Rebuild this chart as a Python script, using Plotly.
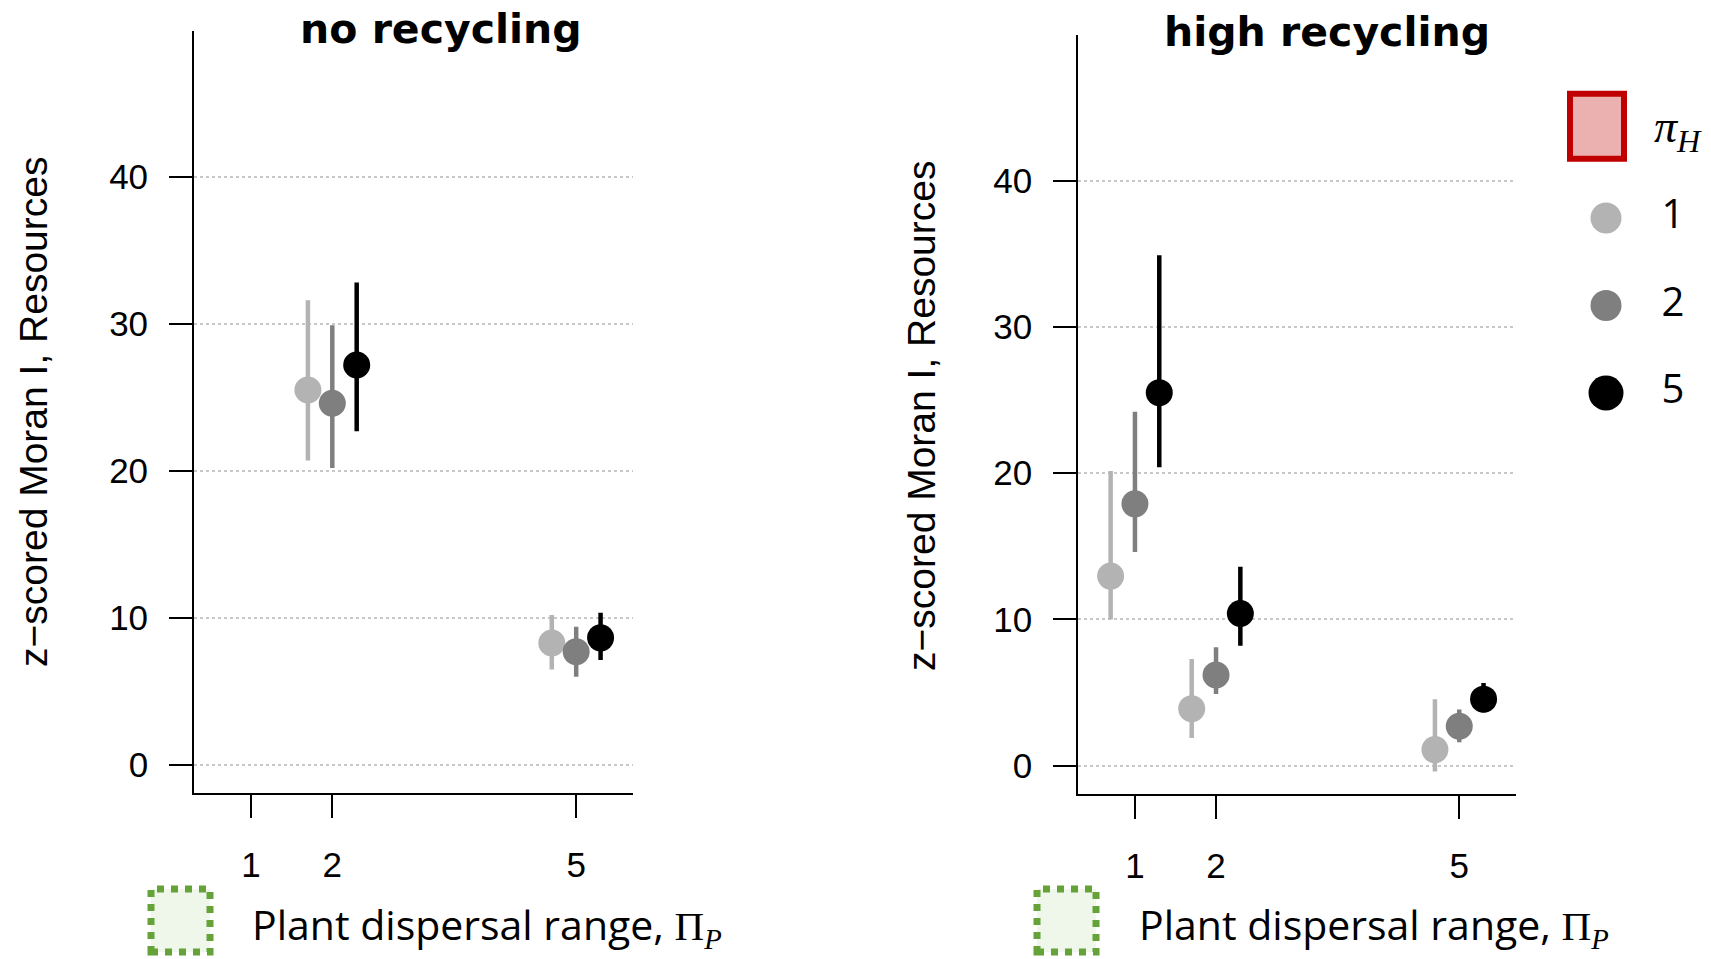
import plotly.graph_objects as go

W, H = 1711, 959
PAGE_PAD = 8  # default body margin of the written page

# x axis: plant dispersal range, series: herbivore dispersal pi_H
dispersal_ticks = [1, 2, 5]
y_ticks = [0, 10, 20, 30, 40]
pi_h_levels = ['1', '2', '5']
pi_h_colors = ['#b3b3b3', '#7f7f7f', '#000000']
pi_h_offsets = [-0.3, 0.0, 0.3]

# no recycling (nothing simulated at dispersal 1)
norec_x = [2, 5]
norec_mean = [[25.5, 8.3], [24.6, 7.7], [27.2, 8.65]]
norec_lo = [[20.7, 6.5], [20.2, 6.0], [22.7, 7.15]]
norec_hi = [[31.6, 10.2], [29.9, 9.4], [32.8, 10.35]]

# high recycling
hirec_x = [1, 2, 5]
hirec_mean = [[12.96, 3.9, 1.1], [17.9, 6.2, 2.7], [25.5, 10.4, 4.55]]
hirec_lo = [[10.0, 1.9, -0.4], [14.6, 4.9, 1.6], [20.4, 8.2, 3.65]]
hirec_hi = [[20.15, 7.3, 4.55], [24.2, 8.1, 3.85], [34.9, 13.6, 5.65]]

ylabel = 'z\u2212scored Moran I, Resources'
xlabel = 'Plant dispersal range, <span style="font-family:Liberation Serif">\u03a0<sub><i>P</i></sub></span>'


def px_x(p):
    return (p - PAGE_PAD) / W


def px_y(p):
    return 1 - (p - PAGE_PAD) / H


fig = go.Figure()

panels = [
    ('x', 'y', norec_x, norec_mean, norec_lo, norec_hi),
    ('x2', 'y2', hirec_x, hirec_mean, hirec_lo, hirec_hi),
]
for xa, ya, xs, means, los, his in panels:
    for i, lev in enumerate(pi_h_levels):
        m = means[i]
        fig.add_trace(go.Scatter(
            x=[v + pi_h_offsets[i] for v in xs], y=m,
            mode='markers', xaxis=xa, yaxis=ya, showlegend=False, cliponaxis=False,
            marker=dict(size=27, color=pi_h_colors[i], opacity=1, line=dict(width=0)),
            error_y=dict(type='data', symmetric=False,
                         array=[h - v for h, v in zip(his[i], m)],
                         arrayminus=[v - l for l, v in zip(los[i], m)],
                         color=pi_h_colors[i], thickness=4.5, width=0),
        ))

# legend column on its own hidden axes
fig.add_trace(go.Scatter(
    x=[0] * len(pi_h_levels), y=pi_h_levels, mode='markers', xaxis='x3', yaxis='y3',
    showlegend=False, cliponaxis=False,
    marker=dict(size=[31, 31, 35], color=pi_h_colors, opacity=1, line=dict(width=0)),
))
fig.add_trace(go.Scatter(
    x=[1] * len(pi_h_levels), y=pi_h_levels, mode='text', text=pi_h_levels,
    xaxis='x3', yaxis='y3', showlegend=False, cliponaxis=False,
    textfont=dict(family='Open Sans', size=40, color='black'),
))

xcommon = dict(range=[0.3, 5.7], tickvals=dispersal_ticks, ticks='outside', ticklen=23,
               tickwidth=2, tickcolor='black', showline=True, linecolor='black', linewidth=2,
               showgrid=False, zeroline=False, ticklabelstandoff=17,
               tickfont=dict(family='Liberation Sans', size=35, color='black'))
ycommon = dict(range=[-1.92, 49.92], tickvals=y_ticks, ticks='outside', ticklen=23,
               tickwidth=2, tickcolor='black', showline=True, linecolor='black', linewidth=2,
               showgrid=True, gridcolor='#c8c8c8', griddash='dot', gridwidth=1.5,
               zeroline=False, ticklabelstandoff=14,
               tickfont=dict(family='Liberation Sans', size=35, color='black'))

fig.update_layout(
    width=W, height=H, margin=dict(l=0, r=0, t=0, b=0),
    paper_bgcolor='white', plot_bgcolor='white',
    xaxis=dict(domain=[px_x(194.1), px_x(633.1)], anchor='y', **xcommon),
    yaxis=dict(domain=[px_y(793.3), px_y(30.8)], anchor='x', **ycommon),
    xaxis2=dict(domain=[px_x(1078.2), px_x(1516.0)], anchor='y2', **xcommon),
    yaxis2=dict(domain=[px_y(793.8), px_y(35.4)], anchor='x2', **ycommon),
    xaxis3=dict(domain=[px_x(1606), px_x(1673)], range=[0, 1], anchor='y3', visible=False),
    yaxis3=dict(domain=[px_y(436.75), px_y(174.25)], type='category', range=[2.5, -0.5],
                anchor='x3', visible=False),
)

annos = [
    dict(text='<b>no recycling</b>', x=px_x(441), y=px_y(29),
         font=dict(family='DejaVu Sans', size=41, color='black')),
    dict(text='<b>high recycling</b>', x=px_x(1327), y=px_y(32),
         font=dict(family='DejaVu Sans', size=41, color='black')),
    dict(text=ylabel, x=px_x(34), y=px_y(412), textangle=-90,
         font=dict(family='Liberation Sans', size=39, color='black')),
    dict(text=ylabel, x=px_x(922), y=px_y(416), textangle=-90,
         font=dict(family='Liberation Sans', size=39, color='black')),
    dict(text=xlabel, x=px_x(250), y=px_y(925), xanchor='left',
         font=dict(family='Open Sans', size=41, color='black')),
    dict(text=xlabel, x=px_x(1137), y=px_y(925), xanchor='left',
         font=dict(family='Open Sans', size=41, color='black')),
    dict(text='<i>\u03c0<sub>H</sub></i>', x=px_x(1652), y=px_y(130), xanchor='left',
         font=dict(family='Liberation Serif', size=46, color='black')),
]
for a in annos:
    a.setdefault('xanchor', 'center')
    fig.add_annotation(xref='paper', yref='paper', yanchor='middle', showarrow=False, **a)

# decorative key boxes
shapes = [
    dict(x0=1570, x1=1624, y0=93.7, y1=158.7, line=dict(color='#c00000', width=6),
         fillcolor='#ebb1b1'),
    dict(x0=151, x1=210, y0=889, y1=952, line=dict(color='#65a339', width=7, dash='7px,7px'),
         fillcolor='#eff6ea'),
    dict(x0=1037, x1=1096, y0=889, y1=952, line=dict(color='#65a339', width=7, dash='7px,7px'),
         fillcolor='#eff6ea'),
]
for s in shapes:
    fig.add_shape(type='rect', xref='paper', yref='paper',
                  x0=px_x(s['x0']), x1=px_x(s['x1']), y0=px_y(s['y1']), y1=px_y(s['y0']),
                  line=s['line'], fillcolor=s['fillcolor'], layer='above')

fig.write_html("out.html")
